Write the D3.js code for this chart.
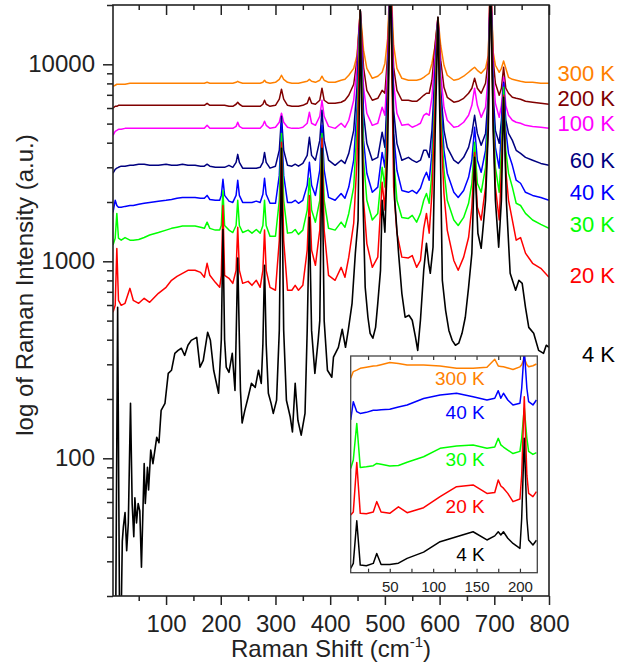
<!DOCTYPE html>
<html>
<head>
<meta charset="utf-8">
<script src="https://cdn.jsdelivr.net/npm/d3@7"></script>
<style>
  body { margin: 0; background: #fff; }
  svg { font-family: "Liberation Sans", Arial, sans-serif; }
</style>
</head>
<body>
<div class="container"></div>
<script>
// shared Raman shift grid (cm-1) for the upper spectra
const shift = [
  3, 7, 10, 13, 18, 25, 34, 40, 50, 60,
  70, 86, 100, 110, 120, 130, 140, 153, 163, 170,
  175, 180, 190, 198, 201, 204, 207, 215, 222, 228,
  231, 234, 240, 250, 257, 265, 272, 277, 280, 283,
  290, 300, 307, 311, 315, 322, 330, 336, 342, 350,
  358, 362, 366, 373, 381, 385, 389, 397, 409, 420,
  427, 434, 443, 449, 455, 461, 467, 477, 487, 495,
  500, 505, 510, 516, 522, 531, 543, 550, 558, 565,
  571, 576, 581, 586, 592, 597, 602, 608, 614, 626,
  634, 644, 653, 659, 664, 669, 676, 684, 689, 693,
  698, 702, 709, 713, 717, 721, 726, 733, 740, 748,
  757, 770, 785, 800
];

const i300 = [
  7730, 7830, 7920, 7920, 7920, 7920, 8010, 8010, 8010, 8010,
  8010, 8010, 8010, 8010, 8010, 8010, 8010, 8010, 8010, 8010,
  8100, 8010, 8010, 8010, 8010, 8010, 8010, 8010, 8010, 8100,
  8200, 8100, 8010, 8010, 8010, 8010, 8010, 8100, 8300, 8100,
  8010, 8100, 8390, 8800, 8390, 8100, 8010, 8010, 8010, 8100,
  8200, 8390, 8200, 8100, 8300, 8700, 8300, 8100, 8100, 8300,
  8390, 8800, 9540, 11100, 18800, 11800, 9540, 8490, 8700, 9110,
  10100, 13500, 30000, 12500, 9540, 8490, 8300, 8300, 8300, 8390,
  8590, 8800, 9000, 10100, 12500, 17300, 12500, 9890, 8800, 8300,
  8390, 8700, 9110, 9430, 9660, 9320, 9000, 9540, 11100, 30000,
  11500, 9890, 9110, 9540, 10400, 9540, 8590, 8390, 8300, 8200,
  8100, 8100, 8010, 8010
];

const i200 = [
  5980, 6120, 6120, 6190, 6190, 6190, 6190, 6190, 6190, 6190,
  6190, 6190, 6190, 6190, 6190, 6190, 6190, 6190, 6190, 6190,
  6340, 6190, 6190, 6190, 6190, 6190, 6190, 6120, 6120, 6270,
  6420, 6270, 6120, 6120, 6120, 6120, 6120, 6270, 6570, 6270,
  6120, 6190, 6650, 7470, 6650, 6190, 6120, 6120, 6120, 6190,
  6340, 6800, 6340, 6270, 6570, 7560, 6570, 6340, 6340, 6420,
  6570, 6960, 7920, 10500, 18800, 9660, 7380, 6570, 6720, 7380,
  7130, 11100, 30000, 9660, 7380, 6570, 6570, 6490, 6490, 6720,
  6960, 7130, 7130, 8300, 12800, 17300, 10500, 7640, 6800, 6420,
  6490, 6720, 7130, 7560, 8490, 7560, 7130, 8010, 10500, 30000,
  10500, 8010, 6960, 7560, 9660, 7560, 7130, 6800, 6720, 6650,
  6490, 6420, 6340, 6270
];

const i100 = [
  4360, 4570, 4620, 4680, 4680, 4730, 4730, 4730, 4730, 4730,
  4730, 4730, 4730, 4730, 4730, 4730, 4730, 4730, 4730, 4730,
  4900, 4730, 4730, 4730, 4730, 4730, 4730, 4730, 4730, 4840,
  5080, 4840, 4730, 4730, 4730, 4730, 4730, 4900, 5140, 4900,
  4730, 4790, 5080, 5640, 5080, 4790, 4730, 4730, 4730, 4790,
  5020, 5710, 5020, 4900, 5450, 6570, 5450, 4840, 4730, 5020,
  4790, 5200, 6570, 9660, 18800, 7640, 5640, 4900, 5020, 6050,
  5510, 9890, 30000, 8010, 5640, 4900, 4960, 4790, 4900, 5020,
  5510, 5640, 5510, 6800, 11400, 17300, 9000, 6050, 5200, 4790,
  4840, 5080, 5510, 6190, 7560, 6190, 5380, 6050, 8800, 30000,
  8800, 6340, 5380, 6190, 8590, 6190, 5510, 5200, 5080, 5020,
  4900, 4840, 4790, 4730
];

const i60 = [
  2800, 2930, 2970, 3000, 3040, 3040, 3070, 3070, 3110, 3110,
  3070, 3070, 3110, 3070, 3070, 3110, 3070, 3070, 3040, 3040,
  3110, 3040, 3000, 3000, 3000, 3000, 3000, 3070, 3000, 3180,
  3490, 3180, 2970, 2970, 2970, 2970, 3000, 3180, 3570, 3180,
  2970, 3040, 3660, 5450, 3660, 3070, 3040, 3110, 3040, 3140,
  3450, 4260, 3450, 3260, 4110, 5840, 4110, 3260, 3070, 3260,
  3140, 3530, 4620, 7640, 18800, 5640, 3970, 3260, 3370, 4520,
  3790, 7830, 30000, 5840, 3970, 3260, 3370, 3260, 3180, 3260,
  3660, 3660, 3370, 4620, 9660, 17300, 7380, 4620, 3790, 3260,
  3140, 3370, 3790, 4460, 5510, 4460, 3880, 4460, 6960, 30000,
  6960, 4620, 3970, 5200, 8100, 5200, 4460, 4110, 3660, 3530,
  3370, 3260, 3140, 3070
];

const i40 = [
  1770, 2040, 1920, 1880, 1880, 1900, 1920, 1920, 1950, 1970,
  1990, 2020, 2040, 2060, 2090, 2110, 2110, 2110, 2090, 2090,
  2160, 2060, 2040, 2040, 2160, 2610, 2160, 2020, 1990, 2160,
  2580, 2160, 1990, 1990, 1990, 2020, 1990, 2190, 2640, 2190,
  1970, 1970, 2730, 5020, 2730, 1990, 1990, 2040, 1970, 2040,
  2430, 3180, 2430, 2160, 2900, 4900, 2900, 2110, 2040, 2210,
  2090, 2380, 3260, 6050, 18800, 4110, 2800, 2240, 2380, 3570,
  3000, 6800, 30000, 4460, 2900, 2290, 2240, 2290, 2210, 2350,
  2640, 2830, 2580, 3530, 8590, 17300, 6570, 3660, 2800, 2240,
  2110, 2290, 2670, 3260, 4790, 3260, 2830, 3660, 6190, 30000,
  6190, 3790, 2970, 4620, 8010, 4620, 3530, 3070, 2580, 2490,
  2240, 2160, 2110, 2040
];

const i30 = [
  1210, 1310, 1750, 1310, 1280, 1320, 1280, 1280, 1290, 1320,
  1360, 1400, 1440, 1470, 1490, 1510, 1510, 1510, 1490, 1470,
  1580, 1470, 1440, 1440, 1520, 2290, 1520, 1440, 1400, 1520,
  2040, 1520, 1400, 1440, 1390, 1450, 1390, 1520, 2040, 1520,
  1340, 1340, 2040, 4460, 2040, 1390, 1400, 1450, 1370, 1440,
  1820, 2640, 1820, 1580, 2040, 4460, 2040, 1470, 1440, 1580,
  1490, 1750, 2380, 4790, 18800, 3260, 2040, 1620, 1750, 3000,
  2380, 5840, 30000, 3370, 2040, 1670, 1650, 1710, 1580, 1750,
  2040, 2210, 1970, 2800, 7640, 17300, 5840, 2900, 2040, 1620,
  1520, 1670, 1970, 2490, 4020, 2490, 2240, 3000, 5510, 30000,
  5510, 3000, 2240, 3660, 7640, 3660, 2800, 2380, 1970, 1920,
  1750, 1620, 1540, 1470
];

const i20 = [
  551, 598, 1160, 634, 598, 612, 729, 634, 612, 649,
  619, 688, 738, 801, 839, 869, 900, 900, 879, 830,
  977, 849, 782, 738, 849, 1920, 849, 820, 773, 900,
  1490, 900, 773, 791, 755, 801, 738, 900, 1440, 900,
  738, 713, 1280, 4020, 1280, 713, 713, 755, 713, 755,
  1140, 2160, 1140, 954, 1440, 4210, 1440, 849, 801, 932,
  830, 1050, 1560, 3260, 18800, 2040, 1230, 932, 1050, 2520,
  1820, 5200, 30000, 2380, 1390, 1050, 1040, 1070, 932, 1010,
  1470, 1750, 1390, 2210, 6570, 17300, 5020, 2210, 1440, 1010,
  900, 1050, 1320, 1880, 3570, 1880, 1620, 2380, 4900, 30000,
  4900, 2380, 1620, 2900, 6960, 2900, 2040, 1620, 1280, 1320,
  1100, 977, 921, 830
];

// 4 K spectrum is noisier, it gets its own grid
const shift4 = [
  3, 8, 11.5, 15, 18, 20, 22, 25, 28, 31, 35, 38, 41, 43, 46, 49, 52, 55, 60, 62,
  66, 68, 72, 76, 83, 87, 91, 98, 104, 110, 116, 122, 128, 134, 140, 146, 156, 162, 168, 176,
  181, 187, 196, 201, 204, 207, 210, 215, 221, 226, 228, 231, 234, 236, 239, 244, 250, 256, 263, 269,
  274, 277, 280, 283, 287, 292, 296, 302, 307, 311, 315, 320, 327, 331, 336, 341, 347, 354, 358, 362,
  366, 372, 378, 381, 385, 389, 395, 403, 406, 415, 422, 428, 433, 440, 446, 451, 455, 460, 464, 469,
  473, 478, 483, 487, 492, 495, 500, 505, 510, 518, 525, 531, 537, 544, 550, 556, 560, 565, 571, 576,
  580, 583, 588, 592, 597, 601, 605, 611, 617, 623, 629, 635, 641, 647, 653, 659, 664, 670, 676, 684,
  689, 693, 698, 702, 708, 713, 717, 722, 729, 739, 745, 751, 757, 763, 772, 781, 790, 795, 800
];
const i4 = [
  15, 16, 584, 15, 16, 38, 45, 53, 34, 47, 190, 59, 40, 63, 47, 59, 54, 28, 94, 59,
  90, 69, 110, 94, 128, 120, 175, 190, 270, 280, 341, 353, 362, 333, 375, 397, 411, 290, 314, 436,
  397, 280, 214, 400, 1450, 400, 290, 273, 341, 221, 400, 1040, 400, 221, 151, 175, 204, 240, 229, 280,
  240, 380, 954, 380, 214, 190, 169, 197, 446, 3745, 446, 197, 162, 136, 240, 156, 131, 169, 446, 1673,
  446, 270, 397, 500, 3745, 500, 280, 258, 326, 366, 452, 366, 446, 612, 1098, 1615, 18800, 2040, 738, 520,
  431, 407, 462, 612, 900, 2040, 1404, 3659, 30000, 2040, 1098, 688, 520, 532, 502, 411, 353, 502, 900, 1234,
  977, 869, 1178, 4620, 17300, 4464, 801, 564, 446, 397, 375, 384, 431, 520, 738, 1098, 3372, 1388, 1164, 2040,
  4620, 30000, 4620, 2040, 1178, 2040, 6800, 2040, 869, 713, 801, 773, 584, 462, 431, 353, 341, 375, 366
];

const tempLabels = ["300 K", "200 K", "100 K", "60 K", "40 K", "30 K", "20 K", "4 K"];
const tempColors = ["#ff8000", "#800000", "#ff00ff", "#000080", "#0000ff", "#00ff00", "#ff0000", "#000000"];
const labelY = [76, 101, 126, 163, 195, 227, 278, 357];

// inset (low-frequency region, arbitrary offsets)
const insetShift = [5, 8, 12, 16, 23, 31, 35, 40, 50, 60, 70, 89, 108, 127, 146, 162, 171, 175, 178, 181, 186, 192, 200, 202, 205, 208, 210, 215, 219];
const in300 = [89.7, 92.8, 93.5, 94.3, 94.8, 95.4, 95.5, 96, 97, 96.5, 95.8, 95.8, 95.4, 94.3, 94.3, 94.8, 98.5, 95.4, 95.2, 95, 94.5, 93.8, 95, 96, 99, 96, 95, 95.5, 96.3];
const in40 = [70.5, 78.9, 74.3, 73.5, 74, 75, 75, 75.2, 75.4, 76.5, 77.4, 80.4, 82, 82.8, 81.2, 79.7, 80.5, 84, 80.5, 82.8, 79.7, 77.4, 78.2, 85, 103, 85, 78.9, 77.4, 79.7];
const in30 = [48.1, 52, 68.9, 48.6, 48.9, 49.4, 50.4, 50, 49.2, 49.5, 51, 53.5, 57.4, 58.5, 58.9, 57.4, 58, 62, 59, 58, 56.6, 55, 56, 62, 76, 62, 56, 54.6, 55.4];
const in20 = [26.6, 28, 50.8, 27.4, 27.2, 28, 32.8, 28, 27.4, 30.4, 27.7, 30, 35.1, 39.7, 40.5, 36.6, 37, 42.8, 40, 39, 36.6, 32.8, 34, 45, 81.2, 45, 36.6, 35.1, 37.4];
const in4 = [2, 4.3, 24, 3.5, 3.2, 4.3, 8.9, 3.8, 3.8, 4.4, 6.6, 9.5, 14.3, 16.6, 18.9, 15.1, 17, 18.9, 17.4, 18.9, 15.9, 13.5, 11.2, 25, 62, 25, 15.1, 12.8, 15];
const insetLabels = ["300 K", "40 K", "30 K", "20 K", "4 K"];
const insetColors = ["#ff8000", "#0000ff", "#00ff00", "#ff0000", "#000000"];

const margin = { top: 5, right: 83, bottom: 68, left: 113 },
  width = 632 - margin.left - margin.right,
  height = 664 - margin.top - margin.bottom;

const svg = d3
  .select(".container")
  .append("svg")
  .attr("width", width + margin.left + margin.right)
  .attr("height", height + margin.top + margin.bottom)
  .append("g")
  .attr("transform", `translate(${margin.left}, ${margin.top})`);

const xScale = d3.scaleLinear().domain([3, 800]).range([0, width]);
const yScale = d3.scaleLog().domain([20, 20000]).range([height, 0]);

svg.append("clipPath").attr("id", "plot-clip")
  .append("rect").attr("width", width).attr("height", height);

const line = d3.line()
  .x((d) => xScale(d[0]))
  .y((d) => yScale(d[1]));

const spectra = [i300, i200, i100, i60, i40, i30, i20];
const plotArea = svg.append("g").attr("clip-path", "url(#plot-clip)");

spectra.forEach((vals, k) => {
  plotArea.append("path")
    .datum(shift.map((x, i) => [x, vals[i]]))
    .attr("fill", "none")
    .attr("stroke", tempColors[k])
    .attr("stroke-width", 1.5)
    .attr("stroke-linejoin", "round")
    .attr("d", line);
});

plotArea.append("path")
  .datum(shift4.map((x, i) => [x, i4[i]]))
  .attr("fill", "none")
  .attr("stroke", tempColors[7])
  .attr("stroke-width", 1.6)
  .attr("stroke-linejoin", "round")
  .attr("d", line);

// temperature labels on the right
svg.selectAll(".temp")
  .data(tempLabels)
  .join("text")
  .attr("class", "temp")
  .attr("x", 502)
  .attr("y", (d, i) => labelY[i])
  .attr("text-anchor", "end")
  .style("font-size", "22px")
  .style("fill", (d, i) => tempColors[i])
  .text((d) => d);

// inset
const inset = { left: 237.7, top: 351, width: 186.6, height: 216.7 };
const ig = svg.append("g").attr("transform", `translate(${inset.left}, ${inset.top})`);
const ix = d3.scaleLinear().domain([5, 220]).range([0, inset.width]);
const iy = d3.scaleLinear().domain([0, 100]).range([inset.height, 0]);

ig.append("rect").attr("width", inset.width).attr("height", inset.height).attr("fill", "#fff");
ig.append("clipPath").attr("id", "inset-clip")
  .append("rect").attr("width", inset.width).attr("height", inset.height);

const iline = d3.line().x((d) => ix(d[0])).y((d) => iy(d[1]));
const iArea = ig.append("g").attr("clip-path", "url(#inset-clip)");
[in300, in40, in30, in20, in4].forEach((vals, k) => {
  iArea.append("path")
    .datum(insetShift.map((x, i) => [x, vals[i]]))
    .attr("fill", "none")
    .attr("stroke", insetColors[k])
    .attr("stroke-width", 1.5)
    .attr("stroke-linejoin", "round")
    .attr("d", iline);
});

const insetTicks = [25, 50, 75, 100, 125, 150, 175, 200];
ig.append("g").attr("transform", `translate(0, ${inset.height})`)
  .call(d3.axisTop(ix).tickValues(insetTicks).tickSize(4).tickFormat(""))
  .call((g) => g.select(".domain").remove());
ig.append("g")
  .call(d3.axisBottom(ix).tickValues(insetTicks).tickSize(4).tickFormat(""))
  .call((g) => g.select(".domain").remove());
ig.append("g").attr("transform", `translate(0, ${inset.height})`)
  .call(d3.axisBottom(ix).tickValues([50, 100, 150, 200]).tickSize(0).tickPadding(9))
  .call((g) => g.select(".domain").remove())
  .selectAll("text").style("font-size", "15px").style("font-family", "Liberation Sans, Arial, sans-serif").attr("fill", "#222");
ig.selectAll(".tick line").attr("stroke", "#333").attr("stroke-width", 1.2);
ig.append("rect").attr("width", inset.width).attr("height", inset.height)
  .attr("fill", "none").attr("stroke", "#444").attr("stroke-width", 1.3);

const insetLabelY = [29, 63, 110, 157, 205];
ig.selectAll(".ilab")
  .data(insetLabels)
  .join("text")
  .attr("class", "ilab")
  .attr("x", 134)
  .attr("y", (d, i) => insetLabelY[i])
  .attr("text-anchor", "end")
  .style("font-size", "19px")
  .style("fill", (d, i) => insetColors[i])
  .text((d) => d);

// axes
const fontFam = "Liberation Sans, Arial, sans-serif";
const yMinor = [20, 30, 40, 50, 60, 70, 80, 90, 200, 300, 400, 500, 600, 700, 800, 900,
  2000, 3000, 4000, 5000, 6000, 7000, 8000, 9000, 20000];

svg.append("g")
  .call(d3.axisLeft(yScale).tickValues([100, 1000, 10000]).tickSize(10).tickPadding(8).tickFormat(d3.format("d")))
  .call((g) => g.select(".domain").remove())
  .selectAll("text").style("font-size", "24px").style("font-family", fontFam).attr("fill", "#222");
svg.append("g")
  .call(d3.axisLeft(yScale).tickValues(yMinor).tickSize(6).tickFormat(""))
  .call((g) => g.select(".domain").remove());

const xMajor = [100, 200, 300, 400, 500, 600, 700, 800];
const xMinor = [50, 150, 250, 350, 450, 550, 650, 750];
svg.append("g").attr("transform", `translate(0, ${height})`)
  .call(d3.axisBottom(xScale).tickValues(xMajor).tickSize(9).tickPadding(10))
  .call((g) => g.select(".domain").remove())
  .selectAll("text").style("font-size", "24px").style("font-family", fontFam).attr("fill", "#222");
svg.append("g").attr("transform", `translate(0, ${height})`)
  .call(d3.axisBottom(xScale).tickValues(xMinor).tickSize(5).tickFormat(""))
  .call((g) => g.select(".domain").remove());
svg.append("g")
  .call(d3.axisBottom(xScale).tickValues(xMajor).tickSize(10).tickFormat(""))
  .call((g) => g.select(".domain").remove());
svg.append("g")
  .call(d3.axisBottom(xScale).tickValues(xMinor).tickSize(5).tickFormat(""))
  .call((g) => g.select(".domain").remove());

svg.selectAll(":scope > g > .tick line").attr("stroke", "#222").attr("stroke-width", 1.5);

svg.append("rect")
  .attr("width", width).attr("height", height)
  .attr("fill", "none").attr("stroke", "#222").attr("stroke-width", 1.6);

// axis titles
svg.append("text")
  .attr("transform", `translate(-80, ${280}) rotate(-90)`)
  .attr("text-anchor", "middle")
  .style("font-size", "24px")
  .style("fill", "#222")
  .text("log of Raman Intensity (a.u.)");

const xt = svg.append("text")
  .attr("x", 218)
  .attr("y", 652)
  .attr("text-anchor", "middle")
  .style("font-size", "24px")
  .style("fill", "#222");
xt.append("tspan").text("Raman Shift (cm");
xt.append("tspan").attr("dy", -10).style("font-size", "15px").text("-1");
xt.append("tspan").attr("dy", 10).text(")");
</script>
</body>
</html>
